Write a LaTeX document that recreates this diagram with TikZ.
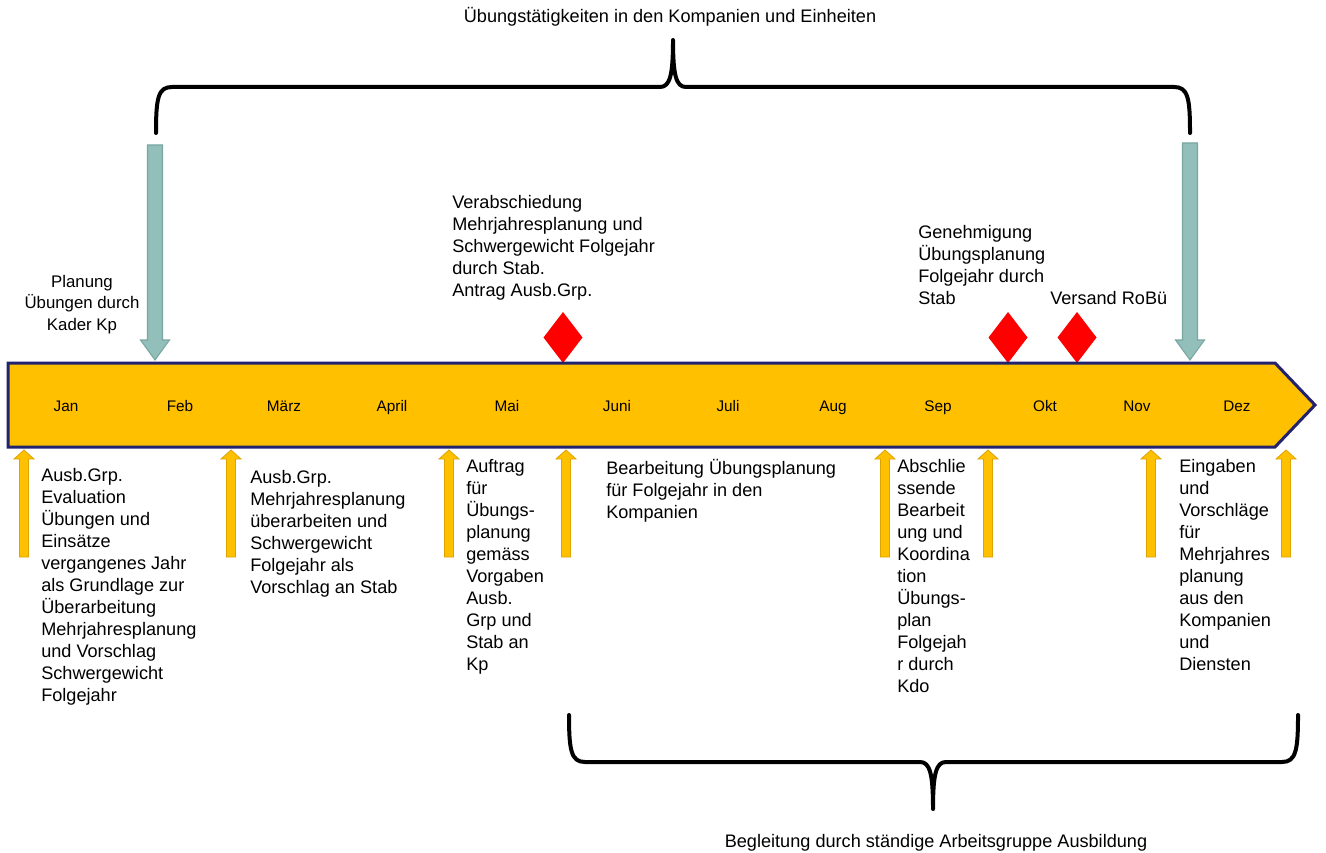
\documentclass[tikz,border=0pt]{standalone}
\usepackage{fontspec}
\setmainfont{Liberation Sans}
\definecolor{bandfill}{HTML}{FFC000}
\definecolor{bandedge}{HTML}{22236E}
\definecolor{grayfill}{HTML}{93BFBB}
\definecolor{grayedge}{HTML}{7AA6A2}
\definecolor{orfill}{HTML}{FFC000}
\definecolor{oredge}{HTML}{DDA400}
\definecolor{diared}{HTML}{FF0000}
\begin{document}
\begin{tikzpicture}[x=0.75pt,y=-0.75pt,
  txt/.style={inner sep=0pt, font=\fontsize{13.6}{16.5}\selectfont, align=left, anchor=north west},
  ctxt/.style={inner sep=0pt, font=\fontsize{12.6}{16.1}\selectfont, align=center, anchor=north},
  month/.style={inner sep=0pt, font=\fontsize{11.5}{14}\selectfont, anchor=base},
  headline/.style={inner sep=0pt, font=\fontsize{13.6}{16}\selectfont, anchor=base},
  brace/.style={line width=3pt, line cap=round, line join=round},
  band/.style={fill=bandfill, draw=bandedge, line width=2.25pt, line join=miter},
  uparr/.style={fill=orfill, draw=oredge, line width=0.6pt},
  downarr/.style={fill=grayfill, draw=grayedge, line width=0.8pt},
  milestone/.style={fill=diared, draw=none}]
\useasboundingbox (0,0) rectangle (1326,852);

% top brace and label
\draw[brace] (156,133) .. controls (156,98) and (158,87) .. (172,87) -- (660,87)
  .. controls (670,87) and (673,75) .. (673,40)
  .. controls (673,75) and (676,87) .. (686,87) -- (1174,87)
  .. controls (1188,87) and (1190,98) .. (1190,133);
\node[headline] (toplabel) at (670,23) {Übungstätigkeiten in den Kompanien und Einheiten};

% bottom brace and label
\draw[brace] (569,715) .. controls (569,750) and (571,762) .. (585,762) -- (920,762)
  .. controls (930,762) and (933,774) .. (933,809)
  .. controls (933,774) and (936,762) .. (946,762) -- (1282,762)
  .. controls (1296,762) and (1298,750) .. (1298,715);
\node[headline] (botlabel) at (936,847) {Begleitung durch ständige Arbeitsgruppe Ausbildung};

% gray down arrows
\foreach \c/\t in {155/145, 1190/143}{
  \draw[downarr] ({\c-7.5},\t) -- ({\c+7.5},\t) -- ({\c+7.5},340) -- ({\c+14.5},340)
    -- (\c,360) -- ({\c-14.5},340) -- ({\c-7.5},340) -- cycle;
}

% milestones
\foreach \c in {563, 1008, 1077}{
  \fill[milestone] (\c,312) -- ({\c+19.5},337.5) -- (\c,363) -- ({\c-19.5},337.5) -- cycle;
}

% main band
\draw[band] (8,363) -- (1275,363) -- (1315,405) -- (1275,447) -- (8,447) -- cycle;

% months
\foreach \m/\x in {Jan/66, Feb/180, März/284, April/392, Mai/507, Juni/617, Juli/728, Aug/833, Sep/938, Okt/1045, Nov/1137, Dez/1237}{
  \node[month] (m-\x) at (\x,411) {\m};
}

% orange up arrows
\foreach \c in {24, 231, 449, 566, 885, 988, 1151, 1286}{
  \draw[uparr] (\c,450) -- ({\c+10},459) -- ({\c+4.5},459) -- ({\c+4.5},557)
    -- ({\c-4.5},557) -- ({\c-4.5},459) -- ({\c-10},459) -- cycle;
}

% texts above
\node[ctxt] (planung) at (82,275) {Planung\\Übungen durch\\Kader Kp};
\node[txt] (verab) at (452,195) {Verabschiedung\\Mehrjahresplanung und\\Schwergewicht Folgejahr\\durch Stab.\\Antrag Ausb.Grp.};
\node[txt] (genehm) at (918,225) {Genehmigung\\Übungsplanung\\Folgejahr durch\\Stab};
\node[txt] (versand) at (1050,291) {Versand RoBü};

% texts below
\node[txt] (t1) at (41,468) {Ausb.Grp.\\Evaluation\\Übungen und\\Einsätze\\vergangenes Jahr\\als Grundlage zur\\Überarbeitung\\Mehrjahresplanung\\und Vorschlag\\Schwergewicht\\Folgejahr};
\node[txt] (t2) at (250,470) {Ausb.Grp.\\Mehrjahresplanung\\überarbeiten und\\Schwergewicht\\Folgejahr als\\Vorschlag an Stab};
\node[txt] (t3) at (466,459) {Auftrag\\für\\Übungs-\\planung\\gemäss\\Vorgaben\\Ausb.\\Grp und\\Stab an\\Kp};
\node[txt] (t4) at (606,459) {Bearbeitung Übungsplanung\\für Folgejahr in den\\Kompanien};
\node[txt] (t5) at (897,459) {Abschlie\\ssende\\Bearbeit\\ung und\\Koordina\\tion\\Übungs-\\plan\\Folgejah\\r durch\\Kdo};
\node[txt] (t6) at (1179,459) {Eingaben\\und\\Vorschläge\\für\\Mehrjahres\\planung\\aus den\\Kompanien\\und\\Diensten};
\end{tikzpicture}
\end{document}
